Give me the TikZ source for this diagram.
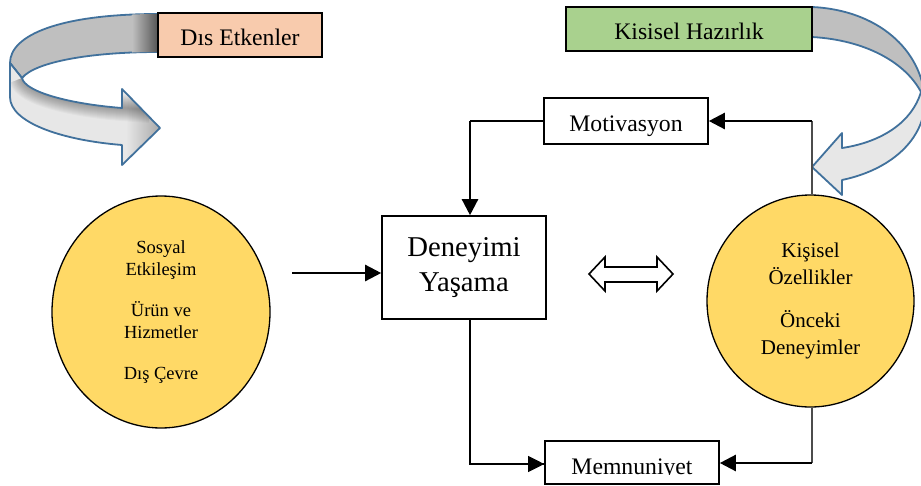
\documentclass[tikz,border=0pt]{standalone}
\usepackage{fontspec}
\setmainfont{Liberation Serif}
\usetikzlibrary{arrows.meta,shapes.geometric}

\definecolor{peach}{HTML}{F8CBAD}
\definecolor{leaf}{HTML}{A9D18E}
\definecolor{sun}{HTML}{FFD966}
\definecolor{ribbon}{HTML}{41719C}
\definecolor{bandback}{HTML}{BFBFBF}
\definecolor{bandfront}{HTML}{E7E7E7}

\begin{document}
\begin{tikzpicture}[x=1pt,y=-1pt,
  box/.style={draw=black,line width=1.6pt,rectangle,inner sep=0pt,
    text height=22pt,text depth=2pt,font=\fontsize{23.7}{28}\selectfont},
  blob/.style={draw=black,line width=1.3pt,fill=sun,ellipse,inner sep=0pt,align=center},
  tip/.style={-{Triangle[length=16pt,width=16pt]}},
  strong/.style={line width=2.4pt,tip},
  fine/.style={line width=1.1pt},
  band/.style={draw=ribbon,line width=1.8pt,line join=round},
]
\useasboundingbox (0,0) rectangle (921,485);

% ---- curved ribbon arrow from "Dıs Etkenler"
\def\backband{(158,14) .. controls (60,14) and (10,35) .. (10,63)
  -- (22,78) .. controls (35,62) and (90,52) .. (158,52) -- cycle}
\def\frontband{(10,63) -- (10,97) .. controls (10,122) and (60,140) .. (122,145)
  -- (122,165) -- (160,128) -- (122,89) -- (122,108)
  .. controls (70,104) and (25,92) .. (22,78) -- cycle}
\path[band,fill=bandback] \backband;
\begin{scope}
  \clip \backband;
  \shade[left color=bandback,right color=gray!60!black] (132,10) rectangle (160,58);
\end{scope}
\path[fill=bandfront] \frontband;
\begin{scope}
  \clip \frontband;
  \shade[left color=bandfront,right color=gray!70] (126,85) -- (162,128) -- (126,170) -- cycle;
  \foreach \w in {2,4,...,26}
    \draw[line width=\w pt,black,opacity=0.028]
      (150,110) -- (122,108) .. controls (70,104) and (25,92) .. (22,78);
\end{scope}
\path[band] \frontband;

% ---- curved ribbon arrow from "Kisisel Hazırlık"
\path[band,fill=bandback] (812,7) .. controls (878,10) and (922,50) .. (925,100)
  -- (921,92) .. controls (905,62) and (865,40) .. (812,37) -- cycle;
\path[band,fill=bandfront] (925,100) .. controls (925,140) and (890,170) .. (842,180)
  -- (842,195) -- (812,167) -- (842,133) -- (842,148)
  .. controls (882,142) and (912,122) .. (921,92) -- cycle;

% ---- boxes
\node[box,fill=peach,minimum width=164,minimum height=44] (dis) at (240,35) {Dıs Etkenler};
\node[box,fill=leaf,minimum width=246,minimum height=44] (kis) at (689,29) {Kisisel Hazırlık};
\node[box,fill=white,minimum width=164,minimum height=46] (motiv) at (626,121) {Motivasyon};
\node[draw=black,line width=1.6pt,fill=white,minimum width=164,minimum height=103,
  inner sep=0pt,align=center,font=\fontsize{28.7}{35}\selectfont] (deney) at (464,267.5)
  {Deneyimi\\Yaşama};
\node[draw=black,line width=1.6pt,fill=white,minimum width=174,minimum height=43,inner sep=0pt]
  (memn) at (632,462.5) {};
\begin{scope}
  \clip (546,442) rectangle (718,474.5);
  \node[inner sep=0pt,text height=22pt,text depth=2pt,font=\fontsize{23.7}{28}\selectfont]
    (memntext) at (632,464) {Memnuniyet};
\end{scope}

% ---- circles
\node[blob,minimum width=218,minimum height=232,font=\fontsize{18.5}{22.5}\selectfont]
  (dis-c) at (161,312)
  {Sosyal\\Etkileşim\\[18pt]Ürün ve\\Hizmetler\\[18pt]Dış Çevre};
\node[blob,minimum width=207,minimum height=212,font=\fontsize{21}{27}\selectfont]
  (kis-c) at (810.5,301)
  {Kişisel\\Özellikler\\[16pt]Önceki\\Deneyimler};

% ---- hollow double arrow
\draw[line width=1.6pt,fill=white,line join=miter] (589,274) -- (605,257) -- (605,267) -- (657,267)
  -- (657,257) -- (673,274) -- (657,291) -- (657,282) -- (605,282) -- (605,291) -- cycle;

% ---- connectors
\coordinate (inL) at (292,273);
\draw[strong] (inL) -- (inL -| deney.west);

\coordinate (kM) at (470,121);
\draw[fine] (motiv.west) -- (kM);
\draw[strong] (kM) -- (kM |- deney.north);

\coordinate (kR) at (812,121);
\draw[fine,draw=black!70] (kR |- kis-c.north) -- (kR);
\draw[strong] (kR) -- (motiv.east);

\coordinate (kB) at (470,464);
\draw[fine] (kB |- deney.south) -- (kB) -- (kB -| memn.west);
\draw[fine,tip] ([xshift=-2pt]kB -| memn.west) -- (memn.west |- kB);

\coordinate (kRB) at (812,463);
\draw[fine,draw=black!70] (kRB |- kis-c.south) -- (kRB);
\draw[strong] (kRB) -- (kRB -| memn.east);
\end{tikzpicture}
\end{document}
